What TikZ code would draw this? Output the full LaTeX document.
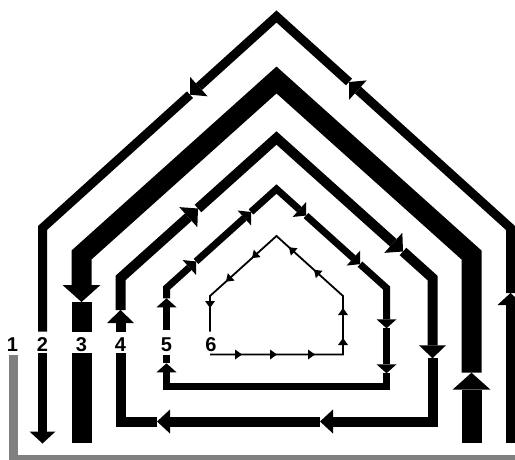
\documentclass[tikz,border=0pt]{standalone}
\usepackage{fontspec}
\setmainfont{Liberation Sans}
\usetikzlibrary{calc}
\tikzset{
  pics/hd/.style 2 args={code={\fill (0,0) -- (-#1,#2/2) -- (-#1,-#2/2) -- cycle;}},
  base/.style={line join=miter, line cap=butt, draw=black},
  wone/.style={base, line width=9pt, draw=black!50},
  wtwo/.style={base, line width=9pt},
  wthree/.style={base, line width=20pt},
  wfour/.style={base, line width=10pt},
  wfive/.style={base, line width=7pt},
  wsix/.style={base, line width=1.8pt},
  lab/.style={inner sep=0pt, font=\bfseries\fontsize{20}{20}\selectfont}
}
\newcommand\hdat[4]{%
  \path let \p1=($(#2)-(#1)$), \n1={atan2(\y1,\x1)} in pic[rotate=\n1] at (#2) {hd={#3}{#4}};}
\begin{document}
\begin{tikzpicture}[x=1pt,y=-1pt]
\useasboundingbox (0,0) rectangle (515,460);
% ---------- path 1 (gray)
\coordinate (g1s) at (13.5,355);
\coordinate (g1c) at (13.5,459.5);
\coordinate (g1e) at (525,459.5);
\draw[wone] (g1s) -- (g1c) -- (g1e);
% ---------- path 2
\coordinate (b2s) at (510.5,443);
\coordinate (b2t1) at (510.5,293);
\coordinate (b2rb) at (510.5,228);
\coordinate (b2t2) at (349,82);
\coordinate (b2ap) at (276.5,16.5);
\coordinate (b2t3) at (190,94.7);
\coordinate (b2lb) at (42.5,228);
\coordinate (b2g1) at (42.5,331.5);
\coordinate (b2g2) at (42.5,353);
\coordinate (b2t4) at (42.5,443.5);
\draw[wtwo] (b2s) -- ($(b2t1)!12pt!(b2s)$); \hdat{b2s}{b2t1}{12}{26}
\draw[wtwo] (b2t1) -- (b2rb) -- ($(b2t2)!12pt!(b2rb)$); \hdat{b2rb}{b2t2}{12}{26}
\draw[wtwo] (b2t2) -- (b2ap) -- ($(b2t3)!12pt!(b2ap)$); \hdat{b2ap}{b2t3}{12}{26}
\draw[wtwo] (b2t3) -- (b2lb) -- (b2g1);
\draw[wtwo] (b2g2) -- ($(b2t4)!12pt!(b2g2)$); \hdat{b2g2}{b2t4}{12}{26}
% ---------- path 3
\coordinate (c3s) at (471.5,443);
\coordinate (c3t1) at (471.5,372.7);
\coordinate (c3rb) at (471.5,255);
\coordinate (c3ap) at (276.5,80);
\coordinate (c3lb) at (81.5,255);
\coordinate (c3t2) at (81.5,302);
\coordinate (c3g1) at (81.5,331.5);
\coordinate (c3g2) at (81.5,353);
\coordinate (c3e) at (81.5,443);
\draw[wthree] (c3s) -- ($(c3t1)!17pt!(c3s)$); \hdat{c3s}{c3t1}{17}{38}
\draw[wthree] (c3t1) -- (c3rb) -- (c3ap) -- (c3lb) -- ($(c3t2)!17pt!(c3lb)$); \hdat{c3lb}{c3t2}{17}{38}
\draw[wthree] (c3t2) -- (c3g1);
\draw[wthree] (c3g2) -- (c3e);
% ---------- path 4
\coordinate (d4s) at (120.5,331.5);
\coordinate (d4t1) at (120.5,310);
\coordinate (d4lb) at (120.5,278);
\coordinate (d4t2) at (198,208.5);
\coordinate (d4ap) at (276.5,138);
\coordinate (d4t3) at (403,251.5);
\coordinate (d4rb) at (432.5,278);
\coordinate (d4t4) at (432.5,358.3);
\coordinate (d4br) at (432.5,421.5);
\coordinate (d4t5) at (320,421.5);
\coordinate (d4t6) at (157,421.5);
\coordinate (d4bl) at (120.5,421.5);
\coordinate (d4e) at (120.5,353);
\draw[wfour] (d4s) -- ($(d4t1)!13pt!(d4s)$); \hdat{d4s}{d4t1}{13}{27}
\draw[wfour] (d4t1) -- (d4lb) -- ($(d4t2)!13pt!(d4lb)$); \hdat{d4lb}{d4t2}{13}{27}
\draw[wfour] (d4t2) -- (d4ap) -- ($(d4t3)!13pt!(d4ap)$); \hdat{d4ap}{d4t3}{13}{27}
\draw[wfour] (d4t3) -- (d4rb) -- ($(d4t4)!13pt!(d4rb)$); \hdat{d4rb}{d4t4}{13}{27}
\draw[wfour] (d4t4) -- (d4br) -- ($(d4t5)!13pt!(d4br)$); \hdat{d4br}{d4t5}{13}{24}
\draw[wfour] (d4t5) -- ($(d4t6)!13pt!(d4t5)$); \hdat{d4t5}{d4t6}{13}{24}
\draw[wfour] (d4t6) -- (d4bl) -- (d4e);
% ---------- path 5
\coordinate (e5a) at (166.5,355);
\coordinate (e5b) at (166.5,330);
\coordinate (e5t1) at (166.5,298.3);
\coordinate (e5lb) at (166.5,288);
\coordinate (e5t2) at (196,261.45);
\coordinate (e5t3) at (251,211.95);
\coordinate (e5ap) at (276.5,189);
\coordinate (e5t4) at (306,215.55);
\coordinate (e5t5) at (360,264.15);
\coordinate (e5rb) at (386.5,288);
\coordinate (e5t6) at (386.5,328.3);
\coordinate (e5t7) at (386.5,373.3);
\coordinate (e5br) at (386.5,386.5);
\coordinate (e5bl) at (166.5,386.5);
\coordinate (e5t8) at (166.5,363.3);
\draw[wfive] (e5b) -- ($(e5t1)!9pt!(e5b)$); \hdat{e5b}{e5t1}{9}{20}
\draw[wfive] (e5t1) -- (e5lb) -- ($(e5t2)!9pt!(e5lb)$); \hdat{e5lb}{e5t2}{9}{20}
\draw[wfive] (e5t2) -- ($(e5t3)!9pt!(e5t2)$); \hdat{e5t2}{e5t3}{9}{20}
\draw[wfive] (e5t3) -- (e5ap) -- ($(e5t4)!9pt!(e5ap)$); \hdat{e5ap}{e5t4}{9}{20}
\draw[wfive] (e5t4) -- ($(e5t5)!9pt!(e5t4)$); \hdat{e5t4}{e5t5}{9}{20}
\draw[wfive] (e5t5) -- (e5rb) -- ($(e5t6)!9pt!(e5rb)$); \hdat{e5rb}{e5t6}{9}{20}
\draw[wfive] (e5t6) -- ($(e5t7)!9pt!(e5t6)$); \hdat{e5t6}{e5t7}{9}{20}
\draw[wfive] (e5t7) -- (e5br) -- (e5bl) -- ($(e5t8)!9pt!(e5bl)$); \hdat{e5bl}{e5t8}{9}{20}
\draw[wfive] (e5t8) -- (e5a);
% ---------- path 6
\coordinate (f6s) at (210,354.5);
\coordinate (f6t1) at (242,354.5);
\coordinate (f6t2) at (277,354.5);
\coordinate (f6t3) at (315,354.5);
\coordinate (f6br) at (343,354.5);
\coordinate (f6t4) at (343,338);
\coordinate (f6t5) at (343,308);
\coordinate (f6rb) at (343,296);
\coordinate (f6t6) at (314,269.8);
\coordinate (f6t7) at (289,247.3);
\coordinate (f6ap) at (276.5,236);
\coordinate (f6t8) at (252,258.1);
\coordinate (f6t9) at (226,281.6);
\coordinate (f6lb) at (210,296);
\coordinate (f6t10) at (210,308);
\coordinate (f6e) at (210,331.5);
\draw[wsix] (f6s) -- (f6br) -- (f6rb) -- (f6ap) -- (f6lb) -- (f6e);
\hdat{f6s}{f6t1}{7}{10}
\hdat{f6s}{f6t2}{7}{10}
\hdat{f6s}{f6t3}{7}{10}
\hdat{f6br}{f6t4}{7}{10}
\hdat{f6br}{f6t5}{7}{10}
\hdat{f6rb}{f6t6}{7}{10}
\hdat{f6rb}{f6t7}{7}{10}
\hdat{f6ap}{f6t8}{7}{10}
\hdat{f6ap}{f6t9}{7}{10}
\hdat{f6lb}{f6t10}{7}{10}
% ---------- labels
\node[lab] (l1) at (12.5,345) {1};
\node[lab] (l2) at (42.5,345) {2};
\node[lab] (l3) at (81.5,345) {3};
\node[lab] (l4) at (120.5,345) {4};
\node[lab] (l5) at (166.5,345) {5};
\node[lab] (l6) at (211,345) {6};
\end{tikzpicture}
\end{document}
